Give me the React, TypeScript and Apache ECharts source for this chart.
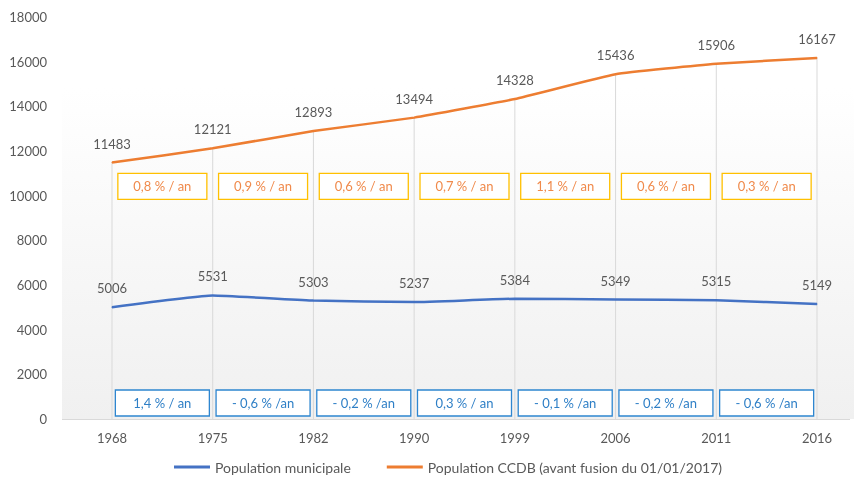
import React, { useEffect, useRef } from "react";
import * as echarts from "echarts";

const years = ["1968", "1975", "1982", "1990", "1999", "2006", "2011", "2016"];
const popMunicipale = [5006, 5531, 5303, 5237, 5384, 5349, 5315, 5149];
const popCCDB = [11483, 12121, 12893, 13494, 14328, 15436, 15906, 16167];
const ratesCCDB = ["0,8 % / an", "0,9 % / an", "0,6 % / an", "0,7 % / an", "1,1 % / an", "0,6 % / an", "0,3 % / an"];
const ratesMunicipale = ["1,4 % / an", "- 0,6 % /an", "- 0,2 % /an", "0,3 % / an", "- 0,1 % /an", "- 0,2 % /an", "- 0,6 % /an"];
const yTicks = { min: 0, max: 18000, interval: 2000 };
const boxLevelCCDB = 10420;
const boxLevelMunicipale = 716;

const FONT = "Lato, 'Open Sans', sans-serif";

export default function App() {
  const ref = useRef<HTMLDivElement>(null);
  useEffect(() => {
    if (!ref.current) return;
    const chart = echarts.init(ref.current, null, { renderer: "svg" });
    const boxSeries = (rates: string[], level: number, stroke: string, color: string, w: number) => ({
      type: "custom",
      z: 5,
      silent: true,
      data: rates.map((t, i) => [i, level, t]),
      renderItem: (params: any, api: any) => {
        const i = api.value(0);
        const lv = api.value(1);
        const p0 = api.coord([i, lv]);
        const p1 = api.coord([i + 1, lv]);
        const cx = (p0[0] + p1[0]) / 2;
        const cy = p0[1];
        const h = 26;
        return {
          type: "group",
          children: [
            {
              type: "rect",
              shape: { x: cx - w / 2, y: cy - h / 2, width: w, height: h },
              style: { fill: "#ffffff", stroke, lineWidth: 1.3 },
            },
            {
              type: "text",
              style: {
                text: rates[params.dataIndex],
                x: cx,
                y: cy,
                align: "center",
                verticalAlign: "middle",
                fill: color,
                font: `13px ${FONT}`,
              },
            },
          ],
        };
      },
    });
    chart.setOption({
      animation: false,
      textStyle: { fontFamily: FONT },
      graphic: [
        {
          type: "rect",
          z: -10,
          silent: true,
          shape: { x: 62, y: 88, width: 792, height: 331 },
          style: {
            fill: new echarts.graphic.LinearGradient(0, 0, 0, 1, [
              { offset: 0, color: "#ffffff" },
              { offset: 1, color: "#f0f0f0" },
            ]),
          },
        },
        {
          type: "line",
          z: 1,
          silent: true,
          shape: { x1: 62, y1: 419.5, x2: 850, y2: 419.5 },
          style: { stroke: "#d9d9d9", lineWidth: 1 },
        },
      ],
      grid: { left: 112, right: 37, top: 17, bottom: 61 },
      legend: {
        left: 169,
        bottom: 1,
        icon: "rect",
        itemWidth: 36,
        itemHeight: 3,
        itemGap: 36,
        textStyle: { color: "#595959", fontSize: 14, fontFamily: FONT },
        data: ["Population municipale", "Population CCDB (avant fusion du 01/01/2017)"],
      },
      xAxis: {
        type: "category",
        boundaryGap: false,
        data: years,
        axisLine: { show: false },
        axisTick: { show: false },
        splitLine: { show: false },
        axisLabel: { color: "#595959", fontSize: 13, margin: 12, fontFamily: FONT },
      },
      yAxis: {
        type: "value",
        min: yTicks.min,
        max: yTicks.max,
        interval: yTicks.interval,
        axisLine: { show: false },
        axisTick: { show: false },
        splitLine: { show: false },
        axisLabel: {
          color: "#595959",
          fontSize: 13,
          margin: 65,
          fontFamily: FONT,
          formatter: (v: number) => String(v),
        },
      },
      series: [
        {
          type: "custom",
          z: 1,
          silent: true,
          data: popCCDB.map((v, i) => [i, v]),
          renderItem: (params: any, api: any) => {
            const top = api.coord([api.value(0), api.value(1)]);
            const bot = api.coord([api.value(0), 0]);
            return {
              type: "line",
              shape: { x1: top[0], y1: top[1], x2: bot[0], y2: bot[1] },
              style: { stroke: "#d9d9d9", lineWidth: 1 },
            };
          },
        },
        {
          name: "Population municipale",
          type: "line",
          z: 3,
          data: popMunicipale,
          smooth: 0.12,
          symbol: "circle",
          symbolSize: 1,
          lineStyle: { color: "#4472c4", width: 2.5 },
          itemStyle: { color: "#4472c4" },
          label: { show: true, position: "top", distance: 12, color: "#595959", fontSize: 13, fontFamily: FONT },
        },
        {
          name: "Population CCDB (avant fusion du 01/01/2017)",
          type: "line",
          z: 3,
          data: popCCDB,
          smooth: 0.12,
          symbol: "circle",
          symbolSize: 1,
          lineStyle: { color: "#ed7d31", width: 2.5 },
          itemStyle: { color: "#ed7d31" },
          label: { show: true, position: "top", distance: 12, color: "#595959", fontSize: 13, fontFamily: FONT },
        },
        boxSeries(ratesCCDB, boxLevelCCDB, "#ffc000", "#f08a4b", 89),
        boxSeries(ratesMunicipale, boxLevelMunicipale, "#2e86d0", "#2e7fc6", 94),
      ],
    });
    return () => chart.dispose();
  }, []);
  return <div ref={ref} style={{ position: "fixed", left: 0, top: 0, width: 854, height: 480 }} />;
}
